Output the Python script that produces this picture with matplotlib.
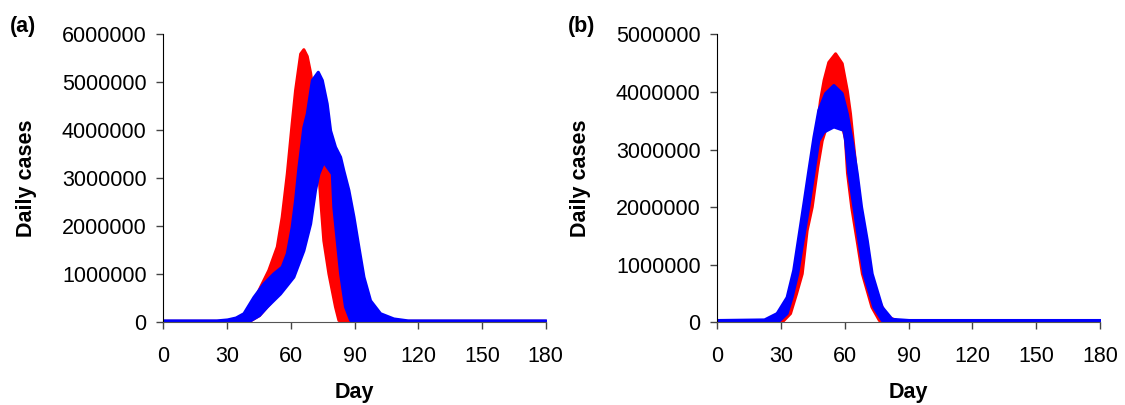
import numpy as np
import matplotlib.pyplot as plt

plt.rcParams['font.family'] = ['Liberation Sans', 'DejaVu Sans']

##############################
## Data (daily cases, millions) - each run drawn as a band: low / high per day

# (a)
A_RED_DAY_HI = [0, 30, 36, 40, 45.5, 49.4, 53.4, 55.7, 58.1, 60.4, 62, 64.4, 65.9, 67.5, 69.1, 71,
                73, 75.3, 77, 79.3, 80, 81.6, 83.2, 85.5, 87.9, 90, 180]
A_RED_HI = [0.03, 0.03, 0.05, 0.2, 0.74, 1.09, 1.58, 2.2, 3.1, 4.15, 4.84, 5.6, 5.69, 5.55, 5.2, 4.6,
            4.0, 3.6, 3.3, 3.1, 2.7, 2.1, 1.4, 0.6, 0.15, 0.03, 0.03]
A_RED_DAY_LO = [0, 36, 40, 45, 50, 55, 60, 63, 66, 69, 71.4, 73, 74.1, 75.3, 77.7, 80.8, 82.4, 85, 180]
A_RED_LO = [0, 0, 0.02, 0.15, 0.4, 0.8, 1.2, 1.7, 2.3, 2.8, 3.0, 3.1, 2.41, 1.71, 1.02, 0.33, 0.05, 0, 0]

A_BLUE_DAY_HI = [0, 25, 30, 34, 37.7, 42.4, 47.1, 51.8, 55.7, 58.1, 60.4, 62, 63.6, 65.9, 67.5, 69.9,
                 72.7, 74.6, 76.9, 78.5, 80.8, 83.2, 84.7, 87.1, 89.5, 91.8, 94.2, 97.3, 102, 108.3, 115, 180]
A_BLUE_HI = [0.04, 0.04, 0.06, 0.1, 0.19, 0.53, 0.81, 1.02, 1.16, 1.44, 1.99, 2.55, 3.24, 4.07, 4.35, 5.05,
             5.22, 5.05, 4.56, 4.0, 3.66, 3.45, 3.17, 2.76, 2.2, 1.58, 0.95, 0.46, 0.19, 0.08, 0.04, 0.04]
A_BLUE_DAY_LO = [0, 30, 40, 45, 48.7, 54.9, 61.2, 65.9, 69.1, 71.4, 73, 75.3, 77, 79.3, 80, 81.6, 83.2,
                 85.5, 87.9, 92, 180]
A_BLUE_LO = [0, 0, 0.02, 0.15, 0.33, 0.6, 0.95, 1.5, 2.06, 2.76, 3.1, 3.35, 3.24, 3.1, 2.41, 1.71, 1.02,
             0.33, 0.05, 0, 0]

# (b)
B_RED_DAY_HI = [0, 25, 30, 33, 36, 39, 42, 45, 48.3, 50, 52.2, 55.4, 58.5, 60.9, 62.4, 64.8, 66.3, 68.7,
                71, 75, 79.7, 85, 180]
B_RED_HI = [0.03, 0.03, 0.15, 0.35, 0.85, 1.5, 2.2, 2.9, 3.86, 4.21, 4.52, 4.67, 4.5, 4.03, 3.63, 2.76,
            2.18, 1.6, 1.02, 0.44, 0.1, 0.03, 0.03]
B_RED_DAY_LO = [0, 30, 34.2, 37, 39.7, 42, 44.4, 47, 49.1, 52, 55, 58, 60, 61, 63, 65.5, 68, 72.5, 76,
                80, 180]
B_RED_LO = [0, 0, 0.16, 0.5, 0.85, 1.6, 2.01, 2.7, 3.16, 3.5, 3.6, 3.5, 3.2, 2.6, 2.0, 1.43, 0.85, 0.27,
            0.04, 0, 0]

B_BLUE_DAY_HI = [0, 22, 27.9, 32.6, 35.7, 38.1, 40.5, 42.8, 45.2, 47.5, 50.7, 54.6, 58.5, 60.9, 63.2,
                 65.6, 67.6, 70.3, 72.6, 77.3, 82, 90, 180]
B_BLUE_HI = [0.04, 0.05, 0.16, 0.44, 0.91, 1.49, 2.07, 2.64, 3.22, 3.69, 3.98, 4.12, 3.98, 3.63, 3.16,
             2.59, 2.01, 1.43, 0.85, 0.27, 0.06, 0.04, 0.04]
B_BLUE_DAY_LO = [0, 28, 32.6, 35, 37.6, 40, 42.8, 45, 47.5, 49.9, 54.6, 59.3, 60.1, 61.6, 64, 66.3,
                 68.7, 73.4, 77.3, 82, 180]
B_BLUE_LO = [0, 0, 0.16, 0.45, 0.85, 1.4, 2.01, 2.55, 3.16, 3.31, 3.4, 3.34, 3.16, 2.59, 2.01, 1.43,
             0.85, 0.27, 0.04, 0, 0]

X_TICKS = [0, 30, 60, 90, 120, 150, 180]
RED = '#ff0000'
BLUE = '#0000ff'


def band(ax, day_hi, hi, day_lo, lo, color):
    # put both edges on a common day grid so fill_between can use them
    days = np.union1d(day_hi, day_lo)
    top = np.interp(days, day_hi, hi) * 1e6
    bot = np.interp(days, day_lo, lo) * 1e6
    ax.fill_between(days, bot, top, color=color, lw=2.2, edgecolor=color, joinstyle='round')


fig = plt.figure(figsize=(11.25, 4.05), dpi=100)
ax_a = fig.add_axes([0.1452, 0.2042, 0.3399, 0.7111])
ax_b = fig.add_axes([0.6376, 0.2042, 0.3402, 0.7111])

band(ax_a, A_RED_DAY_HI, A_RED_HI, A_RED_DAY_LO, A_RED_LO, RED)
band(ax_a, A_BLUE_DAY_HI, A_BLUE_HI, A_BLUE_DAY_LO, A_BLUE_LO, BLUE)
band(ax_b, B_RED_DAY_HI, B_RED_HI, B_RED_DAY_LO, B_RED_LO, RED)
band(ax_b, B_BLUE_DAY_HI, B_BLUE_HI, B_BLUE_DAY_LO, B_BLUE_LO, BLUE)

for ax, ymax in [(ax_a, 6000000), (ax_b, 5000000)]:
    ax.set_xlim(0, 180)
    ax.set_ylim(0, ymax)
    ax.set_xticks(X_TICKS)
    ax.set_yticks(np.arange(0, ymax + 1, 1000000))
    ax.set_yticklabels([str(int(v)) for v in np.arange(0, ymax + 1, 1000000)])
    ax.spines['top'].set_visible(False)
    ax.spines['right'].set_visible(False)
    ax.spines['bottom'].set_color('#555555')
    ax.tick_params(axis='both', direction='out', length=5, width=1, labelsize=15.5, color='#444444')
    ax.tick_params(axis='y', pad=7)
    ax.tick_params(axis='x', pad=12)
    ax.set_xlabel('Day', fontsize=15.5, fontweight='bold', labelpad=11)
    ax.set_ylabel('Daily cases', fontsize=15.5, fontweight='bold', labelpad=18)

fig.text(0.009, 0.92, '(a)', fontsize=15.5, fontweight='bold')
fig.text(0.505, 0.92, '(b)', fontsize=15.5, fontweight='bold')

plt.savefig('out.png', dpi=100)
